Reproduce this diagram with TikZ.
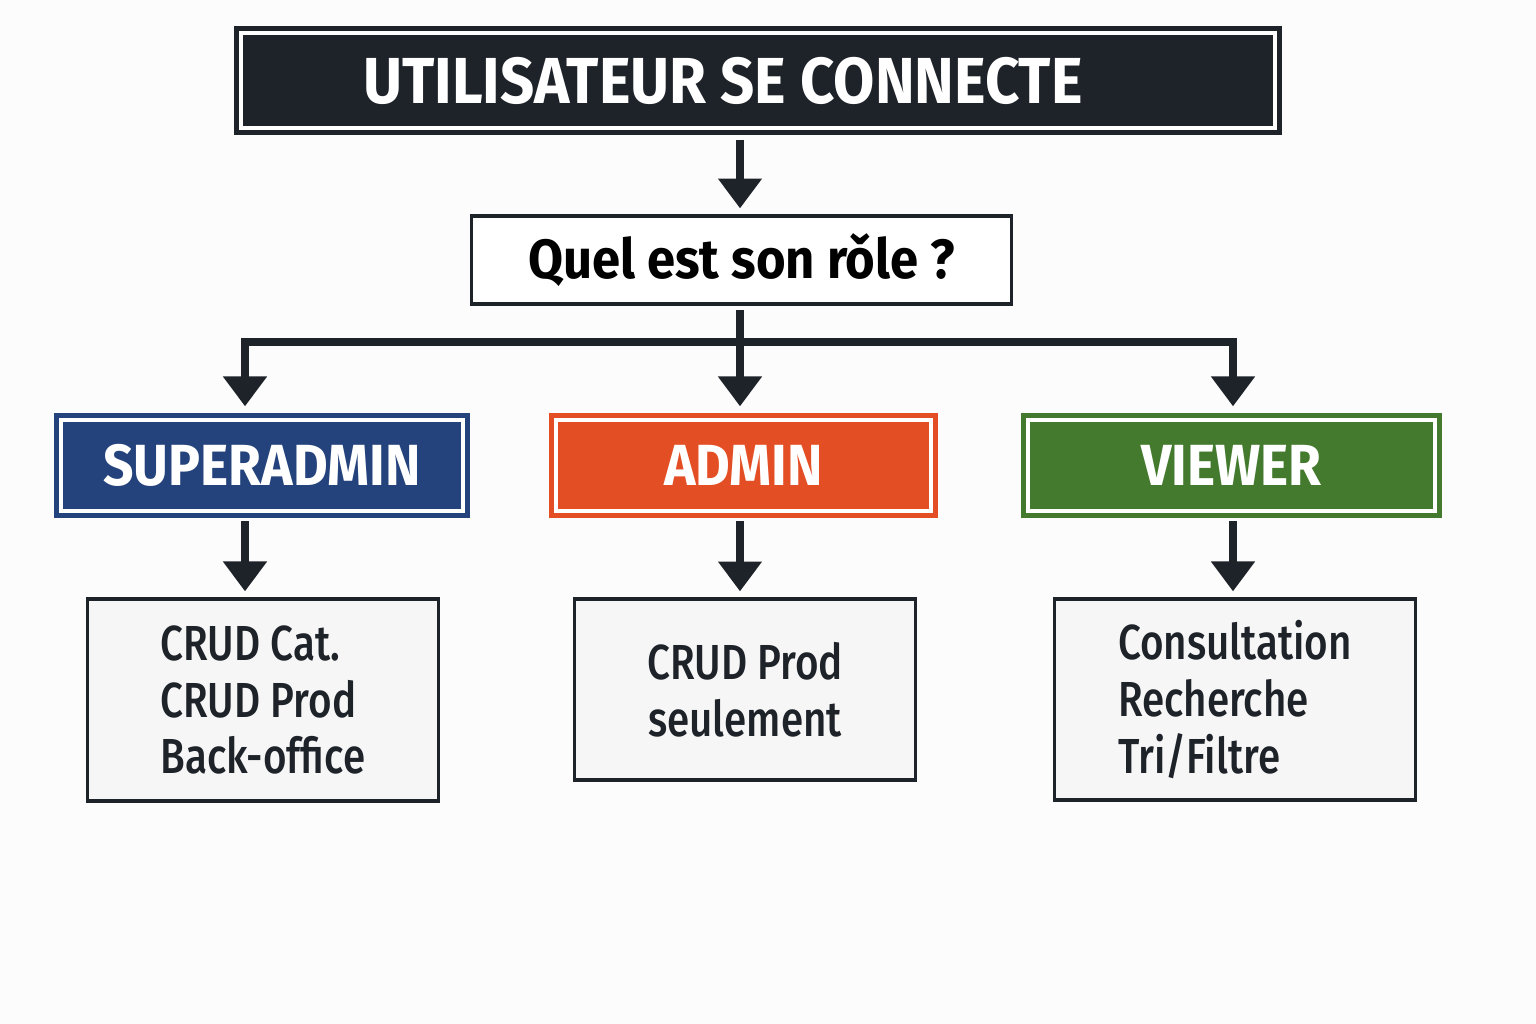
\documentclass[tikz,border=0pt]{standalone}
\usepackage{fontspec}
\setmainfont{Fira Sans}[FakeStretch=0.92]
\newfontfamily\medfont{Fira Sans Medium}[FakeStretch=0.82]
\usetikzlibrary{arrows.meta,positioning,calc}

\definecolor{ink}{HTML}{1E2229}
\definecolor{supblue}{HTML}{24437C}
\definecolor{admorange}{HTML}{E44E24}
\definecolor{viewgreen}{HTML}{437A2D}
\definecolor{boxgray}{HTML}{F6F6F6}

\tikzset{
  framed/.style={draw=#1, line width=0.9pt, fill=#1, text=white, inner sep=0pt,
    path picture={\draw[white, line width=1pt]
      ([shift={(1.5pt,-1.5pt)}]path picture bounding box.north west) rectangle
      ([shift={(-1.5pt,1.5pt)}]path picture bounding box.south east);}},
  rolebox/.style={framed=#1, minimum height=1.01cm,
    font=\bfseries\fontsize{16.5}{18}\selectfont},
  taskbox/.style={draw=ink, line width=0.9pt, fill=boxgray, text=ink, inner sep=0pt,
    align=left, font=\medfont\fontsize{14}{16.1}\selectfont},
  arr/.style={ink, line width=2.3pt, -{Triangle[width=12pt,length=8.5pt]}},
}

\begin{document}
\begin{tikzpicture}[x=0.01cm, y=-0.01cm]
  \fill[white!99!black] (0,0) rectangle (1536,1024);
  \useasboundingbox (0,0) rectangle (1536,1024);
  % start and question
  \node[framed=ink, minimum width=10.44cm, minimum height=1.05cm,
    font=\bfseries\fontsize{18.5}{20}\selectfont] (login) at (758,80.5) {\hspace*{-0.7cm}UTILISATEUR SE CONNECTE};
  \node[draw=ink, line width=0.9pt, fill=white, text=black, minimum width=5.39cm, minimum height=0.88cm,
    font=\bfseries\fontsize{15.7}{18}\selectfont] (role) at (741.5,260) {Quel est son rǒle ?};
  % roles
  \node[rolebox=supblue, minimum width=4.12cm] (super) at (262,465.5) {SUPERADMIN};
  \node[rolebox=admorange, minimum width=3.85cm] (admin) at (743.5,465.5) {ADMIN};
  \node[rolebox=viewgreen, minimum width=4.17cm] (viewer) at (1231.5,465.5) {VIEWER};
  % rights
  \node[taskbox, minimum width=3.5cm, minimum height=2.02cm] (superjob) at (263,700)
    {CRUD Cat.\\CRUD Prod\\Back-office};
  \node[taskbox, align=center, minimum width=3.4cm, minimum height=1.81cm] (adminjob) at (745,689.5)
    {CRUD Prod\\seulement};
  \node[taskbox, minimum width=3.6cm, minimum height=2.01cm] (viewerjob) at (1235,699.5)
    {Consultation\\Recherche\\Tri/Filtre};
  % arrow columns
  \coordinate (bar) at (740,342);
  \coordinate (colA) at (245,342);
  \coordinate (colC) at (1233,342);
  \draw[arr, shorten <=1.4pt, shorten >=1.7pt] (login.south -| bar) -- (role.north -| bar);
  \draw[arr, shorten <=1.2pt, shorten >=2pt] (role.south -| bar) -- (admin.north -| bar);
  \draw[arr, shorten >=2pt] (bar) -| (super.north -| colA);
  \draw[arr, shorten >=2pt] (bar) -| (viewer.north -| colC);
  \draw[arr, shorten <=1pt, shorten >=1.7pt] (super.south -| colA) -- (superjob.north -| colA);
  \draw[arr, shorten <=1pt, shorten >=1.7pt] (admin.south -| bar) -- (adminjob.north -| bar);
  \draw[arr, shorten <=1pt, shorten >=1.7pt] (viewer.south -| colC) -- (viewerjob.north -| colC);
\end{tikzpicture}
\end{document}
